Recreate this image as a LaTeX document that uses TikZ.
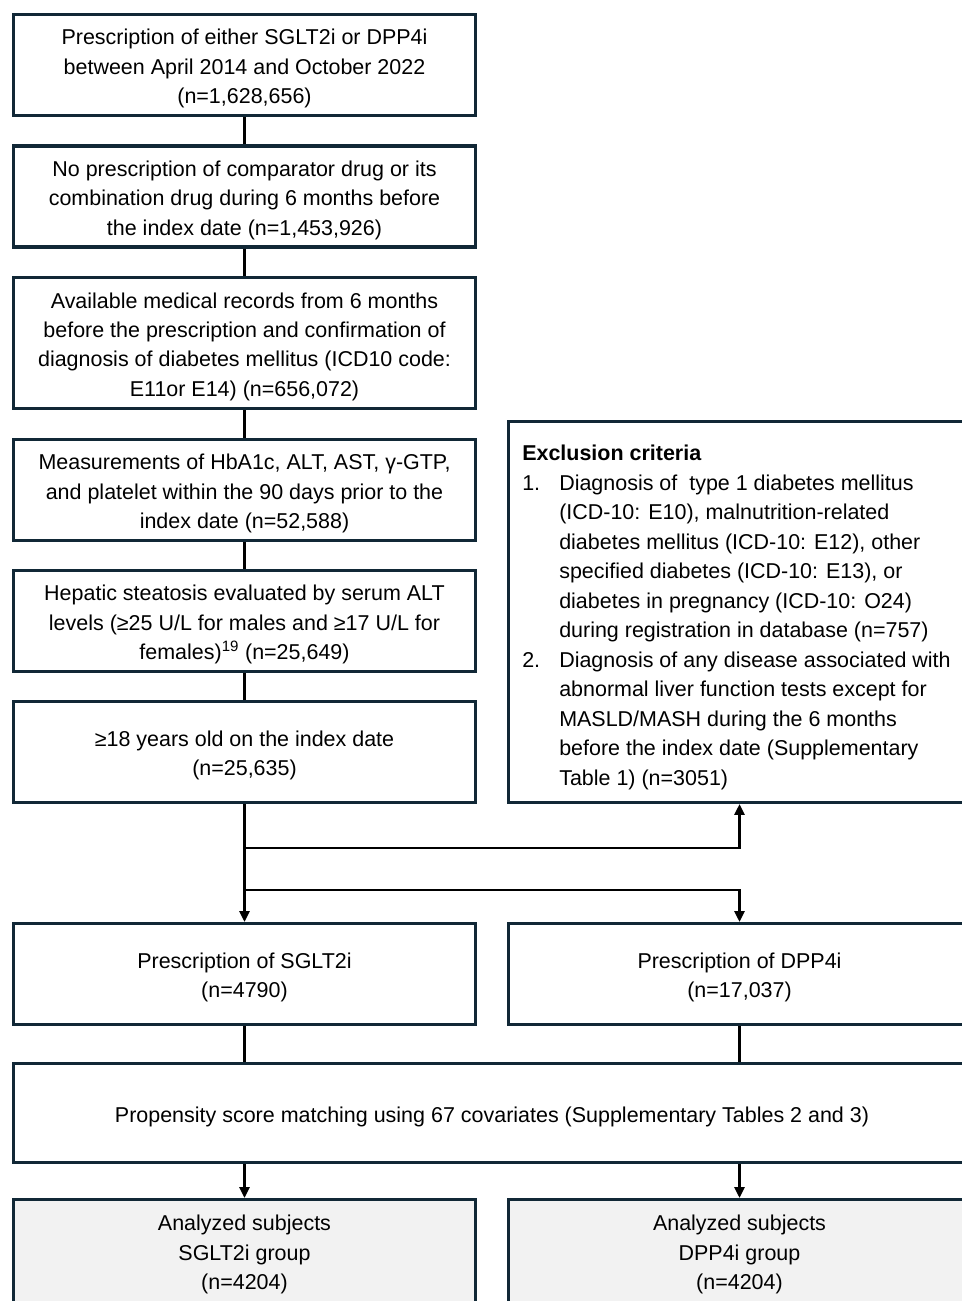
\documentclass[tikz,border=0pt]{standalone}
\usepackage{fontspec}
\setmainfont{Liberation Sans}
\usetikzlibrary{arrows.meta}
\definecolor{boxline}{RGB}{17,40,54}
\definecolor{boxfill}{RGB}{242,242,242}
\newcommand\boxtext[1]{\raisebox{-2.5pt}[\height][\depth]{\begin{tabular}{@{}c@{}}#1\end{tabular}}}

\begin{document}
\begin{tikzpicture}[x=0.75pt,y=-0.75pt,
  txt/.style={font=\fontsize{16.1}{22.1}\selectfont},
  box/.style={txt,draw=boxline,line width=2.4pt,rectangle,inner sep=0pt,
    minimum width=346.5pt,minimum height=75.75pt},
  link/.style={line width=1.7pt,black},
  arr/.style={-{Triangle[length=8pt,width=7.5pt]}}]
\useasboundingbox (0,0) rectangle (962,1301);
\clip (0,0) rectangle (962,1301);
\node[box] (presc) at (244.5,65) {\boxtext{Prescription of either SGLT2i or DPP4i\\between April 2014 and October 2022\\(n=1,628,656)}};
\node[box] (nocomp) at (244.5,196.5) {\boxtext{No prescription of comparator drug or its\\combination drug during 6 months before\\the index date (n=1,453,926)}};
\node[box,minimum height=98.25pt] (records) at (244.5,343) {\boxtext{Available medical records from 6 months\\before the prescription and confirmation of\\diagnosis of diabetes mellitus (ICD10 code:\\E11or E14) (n=656,072)}};
\node[box] (labs) at (244.5,490) {\boxtext{Measurements of HbA1c, ALT, AST, γ-GTP,\\and platelet within the 90 days prior to the\\index date (n=52,588)}};
\node[box] (alt) at (244.5,621) {\boxtext{Hepatic steatosis evaluated by serum ALT\\levels (≥25 U/L for males and ≥17 U/L for\\females)\textsuperscript{19} (n=25,649)}};
\node[box] (adult) at (244.5,752) {\boxtext{≥18 years old on the index date\\(n=25,635)}};
\node[box,minimum height=285.75pt] (excl) at (739.5,612) {};
\node[txt,anchor=north west,inner sep=0pt] (crit) at (522,440) {%
\begin{tabular}{@{}p{27.75pt}@{}l@{}}
\multicolumn{2}{@{}l@{}}{\bfseries Exclusion criteria}\\
1. & Diagnosis of\ \ type 1 diabetes mellitus\\
 & (ICD-10: E10), malnutrition-related\\
 & diabetes mellitus (ICD-10: E12), other\\
 & specified diabetes (ICD-10: E13), or\\
 & diabetes in pregnancy (ICD-10: O24)\\
 & during registration in database (n=757)\\
2. & Diagnosis of any disease associated with\\
 & abnormal liver function tests except for\\
 & MASLD/MASH during the 6 months\\
 & before the index date (Supplementary\\
 & Table 1) (n=3051)
\end{tabular}};
\node[box] (sglt) at (244.5,974) {\boxtext{Prescription of SGLT2i\\(n=4790)}};
\node[box] (dpp) at (739.5,974) {\boxtext{Prescription of DPP4i\\(n=17,037)}};
\node[box,minimum width=717.75pt,minimum height=74.25pt] (psm) at (492,1113) {\boxtext{Propensity score matching using 67 covariates (Supplementary Tables 2 and 3)}};
\node[box,fill=boxfill,minimum height=77.25pt] (ansg) at (244.5,1251) {\boxtext{Analyzed subjects\\SGLT2i group\\(n=4204)}};
\node[box,fill=boxfill,minimum height=77.25pt] (andp) at (739.5,1251) {\boxtext{Analyzed subjects\\DPP4i group\\(n=4204)}};
\coordinate (up) at (244.5,848);
\coordinate (down) at (244.5,890);
\draw[link] (presc) -- (nocomp);
\draw[link] (nocomp) -- (records);
\draw[link] (records) -- (labs);
\draw[link] (labs) -- (alt);
\draw[link] (alt) -- (adult);
\draw[link,arr] (adult) -- (sglt);
\draw[link,arr] (up) -| (excl.south);
\draw[link,arr] (down) -| (dpp.north);
\draw[link] (sglt.south) -- (sglt.south |- psm.north);
\draw[link] (dpp.south) -- (dpp.south |- psm.north);
\draw[link,arr] (ansg.north |- psm.south) -- (ansg.north);
\draw[link,arr] (andp.north |- psm.south) -- (andp.north);
\end{tikzpicture}
\end{document}
